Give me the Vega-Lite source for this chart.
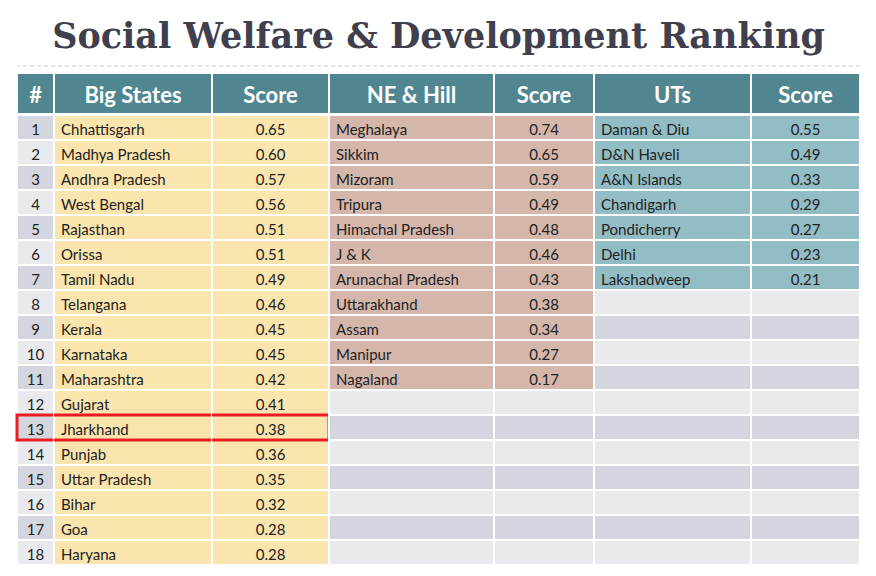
{
  "$schema": "https://vega.github.io/schema/vega-lite/v6.json",
  "padding": {"left": 15, "top": 20, "right": 18, "bottom": 8},
  "background": "white",
  "config": {"view": {"stroke": null}, "text": {"font": "Lato", "dy": 2}},
  "datasets": {
    "rows": [
      {"rank": 1, "big": "Chhattisgarh", "bigScore": 0.65, "ne": "Meghalaya", "neScore": 0.74, "ut": "Daman & Diu", "utScore": 0.55},
      {"rank": 2, "big": "Madhya Pradesh", "bigScore": 0.60, "ne": "Sikkim", "neScore": 0.65, "ut": "D&N Haveli", "utScore": 0.49},
      {"rank": 3, "big": "Andhra Pradesh", "bigScore": 0.57, "ne": "Mizoram", "neScore": 0.59, "ut": "A&N Islands", "utScore": 0.33},
      {"rank": 4, "big": "West Bengal", "bigScore": 0.56, "ne": "Tripura", "neScore": 0.49, "ut": "Chandigarh", "utScore": 0.29},
      {"rank": 5, "big": "Rajasthan", "bigScore": 0.51, "ne": "Himachal Pradesh", "neScore": 0.48, "ut": "Pondicherry", "utScore": 0.27},
      {"rank": 6, "big": "Orissa", "bigScore": 0.51, "ne": "J & K", "neScore": 0.46, "ut": "Delhi", "utScore": 0.23},
      {"rank": 7, "big": "Tamil Nadu", "bigScore": 0.49, "ne": "Arunachal Pradesh", "neScore": 0.43, "ut": "Lakshadweep", "utScore": 0.21},
      {"rank": 8, "big": "Telangana", "bigScore": 0.46, "ne": "Uttarakhand", "neScore": 0.38, "ut": null, "utScore": null},
      {"rank": 9, "big": "Kerala", "bigScore": 0.45, "ne": "Assam", "neScore": 0.34, "ut": null, "utScore": null},
      {"rank": 10, "big": "Karnataka", "bigScore": 0.45, "ne": "Manipur", "neScore": 0.27, "ut": null, "utScore": null},
      {"rank": 11, "big": "Maharashtra", "bigScore": 0.42, "ne": "Nagaland", "neScore": 0.17, "ut": null, "utScore": null},
      {"rank": 12, "big": "Gujarat", "bigScore": 0.41, "ne": null, "neScore": null, "ut": null, "utScore": null},
      {"rank": 13, "big": "Jharkhand", "bigScore": 0.38, "ne": null, "neScore": null, "ut": null, "utScore": null},
      {"rank": 14, "big": "Punjab", "bigScore": 0.36, "ne": null, "neScore": null, "ut": null, "utScore": null},
      {"rank": 15, "big": "Uttar Pradesh", "bigScore": 0.35, "ne": null, "neScore": null, "ut": null, "utScore": null},
      {"rank": 16, "big": "Bihar", "bigScore": 0.32, "ne": null, "neScore": null, "ut": null, "utScore": null},
      {"rank": 17, "big": "Goa", "bigScore": 0.28, "ne": null, "neScore": null, "ut": null, "utScore": null},
      {"rank": 18, "big": "Haryana", "bigScore": 0.28, "ne": null, "neScore": null, "ut": null, "utScore": null}
    ]
  },
  "spacing": 5,
  "vconcat": [
    {
      "width": 843, "height": 1,
      "title": {"text": "Social Welfare & Development Ranking", "anchor": "middle", "frame": "group", "font": "DejaVu Serif", "fontSize": 35, "fontWeight": "bold", "color": "#403f4d", "offset": 10},
      "data": {"values": [{"line": 0}]},
      "mark": {"type": "rule", "color": "#c9c9c9", "strokeDash": [4, 3], "strokeWidth": 1},
      "encoding": {"y": {"field": "line", "type": "quantitative", "scale": {"domain": [0, 1]}, "axis": null}}
    },
    {
      "spacing": -2,
      "vconcat": [
        {
          "spacing": 0,
          "bounds": "flush",
          "hconcat": [
            {"width": 37, "height": 41, "data": {"values": [{"label": "#"}]}, "layer": [
              {"mark": {"type": "rect", "fill": "#4f8690", "stroke": "white", "strokeWidth": 2}, "encoding": {"x": {"datum": 0, "type": "quantitative", "scale": {"domain": [0, 1]}, "axis": null}, "x2": {"datum": 1}, "y": {"datum": 0, "type": "quantitative", "scale": {"domain": [0, 1]}, "axis": null}, "y2": {"datum": 1}}},
              {"mark": {"type": "text", "color": "white", "fontSize": 22, "fontWeight": "bold"}, "encoding": {"x": {"datum": 0.5, "type": "quantitative"}, "y": {"datum": 0.5, "type": "quantitative"}, "text": {"field": "label"}}}
            ]},
            {"width": 158, "height": 41, "data": {"values": [{"label": "Big States"}]}, "layer": [
              {"mark": {"type": "rect", "fill": "#4f8690", "stroke": "white", "strokeWidth": 2}, "encoding": {"x": {"datum": 0, "type": "quantitative", "scale": {"domain": [0, 1]}, "axis": null}, "x2": {"datum": 1}, "y": {"datum": 0, "type": "quantitative", "scale": {"domain": [0, 1]}, "axis": null}, "y2": {"datum": 1}}},
              {"mark": {"type": "text", "color": "white", "fontSize": 22, "fontWeight": "bold"}, "encoding": {"x": {"datum": 0.5, "type": "quantitative"}, "y": {"datum": 0.5, "type": "quantitative"}, "text": {"field": "label"}}}
            ]},
            {"width": 117, "height": 41, "data": {"values": [{"label": "Score"}]}, "layer": [
              {"mark": {"type": "rect", "fill": "#4f8690", "stroke": "white", "strokeWidth": 2}, "encoding": {"x": {"datum": 0, "type": "quantitative", "scale": {"domain": [0, 1]}, "axis": null}, "x2": {"datum": 1}, "y": {"datum": 0, "type": "quantitative", "scale": {"domain": [0, 1]}, "axis": null}, "y2": {"datum": 1}}},
              {"mark": {"type": "text", "color": "white", "fontSize": 22, "fontWeight": "bold"}, "encoding": {"x": {"datum": 0.5, "type": "quantitative"}, "y": {"datum": 0.5, "type": "quantitative"}, "text": {"field": "label"}}}
            ]},
            {"width": 165, "height": 41, "data": {"values": [{"label": "NE & Hill"}]}, "layer": [
              {"mark": {"type": "rect", "fill": "#4f8690", "stroke": "white", "strokeWidth": 2}, "encoding": {"x": {"datum": 0, "type": "quantitative", "scale": {"domain": [0, 1]}, "axis": null}, "x2": {"datum": 1}, "y": {"datum": 0, "type": "quantitative", "scale": {"domain": [0, 1]}, "axis": null}, "y2": {"datum": 1}}},
              {"mark": {"type": "text", "color": "white", "fontSize": 22, "fontWeight": "bold"}, "encoding": {"x": {"datum": 0.5, "type": "quantitative"}, "y": {"datum": 0.5, "type": "quantitative"}, "text": {"field": "label"}}}
            ]},
            {"width": 100, "height": 41, "data": {"values": [{"label": "Score"}]}, "layer": [
              {"mark": {"type": "rect", "fill": "#4f8690", "stroke": "white", "strokeWidth": 2}, "encoding": {"x": {"datum": 0, "type": "quantitative", "scale": {"domain": [0, 1]}, "axis": null}, "x2": {"datum": 1}, "y": {"datum": 0, "type": "quantitative", "scale": {"domain": [0, 1]}, "axis": null}, "y2": {"datum": 1}}},
              {"mark": {"type": "text", "color": "white", "fontSize": 22, "fontWeight": "bold"}, "encoding": {"x": {"datum": 0.5, "type": "quantitative"}, "y": {"datum": 0.5, "type": "quantitative"}, "text": {"field": "label"}}}
            ]},
            {"width": 157, "height": 41, "data": {"values": [{"label": "UTs"}]}, "layer": [
              {"mark": {"type": "rect", "fill": "#4f8690", "stroke": "white", "strokeWidth": 2}, "encoding": {"x": {"datum": 0, "type": "quantitative", "scale": {"domain": [0, 1]}, "axis": null}, "x2": {"datum": 1}, "y": {"datum": 0, "type": "quantitative", "scale": {"domain": [0, 1]}, "axis": null}, "y2": {"datum": 1}}},
              {"mark": {"type": "text", "color": "white", "fontSize": 22, "fontWeight": "bold"}, "encoding": {"x": {"datum": 0.5, "type": "quantitative"}, "y": {"datum": 0.5, "type": "quantitative"}, "text": {"field": "label"}}}
            ]},
            {"width": 109, "height": 41, "data": {"values": [{"label": "Score"}]}, "layer": [
              {"mark": {"type": "rect", "fill": "#4f8690", "stroke": "white", "strokeWidth": 2}, "encoding": {"x": {"datum": 0, "type": "quantitative", "scale": {"domain": [0, 1]}, "axis": null}, "x2": {"datum": 1}, "y": {"datum": 0, "type": "quantitative", "scale": {"domain": [0, 1]}, "axis": null}, "y2": {"datum": 1}}},
              {"mark": {"type": "text", "color": "white", "fontSize": 22, "fontWeight": "bold"}, "encoding": {"x": {"datum": 0.5, "type": "quantitative"}, "y": {"datum": 0.5, "type": "quantitative"}, "text": {"field": "label"}}}
            ]}
          ]
        },
        {
          "spacing": 0,
          "bounds": "flush",
          "hconcat": [
            {"width": 37, "height": 450, "data": {"name": "rows"}, "layer": [
              {"mark": {"type": "rect", "stroke": "white", "strokeWidth": 2}, "encoding": {
                "y": {"field": "rank", "type": "ordinal", "axis": null, "scale": {"paddingInner": 0, "paddingOuter": 0}},
                "x": {"datum": 0, "type": "quantitative", "scale": {"domain": [0, 1]}, "axis": null}, "x2": {"datum": 1},
                "fill": {"condition": {"test": "datum.rank % 2 == 1", "value": "#d3d6de"}, "value": "#e8eaed"}}},
              {"mark": {"type": "text", "fontSize": 15, "color": "#222222"}, "encoding": {
                "y": {"field": "rank", "type": "ordinal"}, "x": {"datum": 0.5, "type": "quantitative"}, "text": {"field": "rank"}}},
              {"transform": [{"filter": "datum.rank == 13"}], "mark": {"type": "rect", "fill": null, "fillOpacity": 0, "stroke": "#ec1c24", "strokeWidth": 3, "strokeDash": [37, 25, 62]}, "encoding": {
                "y": {"field": "rank", "type": "ordinal"}, "x": {"datum": 0, "type": "quantitative"}, "x2": {"datum": 1}}}
            ]},
            {"width": 158, "height": 450, "data": {"name": "rows"}, "layer": [
              {"mark": {"type": "rect", "stroke": "white", "strokeWidth": 2, "fill": "#fbe5ae"}, "encoding": {
                "y": {"field": "rank", "type": "ordinal", "axis": null, "scale": {"paddingInner": 0, "paddingOuter": 0}},
                "x": {"datum": 0, "type": "quantitative", "scale": {"domain": [0, 1]}, "axis": null}, "x2": {"datum": 1}}},
              {"mark": {"type": "text", "fontSize": 15, "color": "#222222", "align": "left", "dx": 7}, "encoding": {
                "y": {"field": "rank", "type": "ordinal"}, "x": {"datum": 0, "type": "quantitative"}, "text": {"field": "big"}}},
              {"transform": [{"filter": "datum.rank == 13"}], "mark": {"type": "rect", "fill": null, "fillOpacity": 0, "stroke": "#ec1c24", "strokeWidth": 3, "strokeDash": [158, 25, 158, 25]}, "encoding": {
                "y": {"field": "rank", "type": "ordinal"}, "x": {"datum": 0, "type": "quantitative"}, "x2": {"datum": 1}}}
            ]},
            {"width": 117, "height": 450, "data": {"name": "rows"}, "layer": [
              {"mark": {"type": "rect", "stroke": "white", "strokeWidth": 2, "fill": "#fbe5ae"}, "encoding": {
                "y": {"field": "rank", "type": "ordinal", "axis": null, "scale": {"paddingInner": 0, "paddingOuter": 0}},
                "x": {"datum": 0, "type": "quantitative", "scale": {"domain": [0, 1]}, "axis": null}, "x2": {"datum": 1}}},
              {"mark": {"type": "text", "fontSize": 15, "color": "#222222"}, "encoding": {
                "y": {"field": "rank", "type": "ordinal"}, "x": {"datum": 0.5, "type": "quantitative"}, "text": {"field": "bigScore", "type": "quantitative", "format": ".2f"}}},
              {"transform": [{"filter": "datum.rank == 13"}], "mark": {"type": "rect", "fill": null, "fillOpacity": 0, "stroke": "#ec1c24", "strokeWidth": 3, "strokeDash": [259, 25]}, "encoding": {
                "y": {"field": "rank", "type": "ordinal"}, "x": {"datum": 0, "type": "quantitative"}, "x2": {"datum": 1}}}
            ]},
            {"width": 165, "height": 450, "data": {"name": "rows"}, "layer": [
              {"mark": {"type": "rect", "stroke": "white", "strokeWidth": 2}, "encoding": {
                "y": {"field": "rank", "type": "ordinal", "axis": null, "scale": {"paddingInner": 0, "paddingOuter": 0}},
                "x": {"datum": 0, "type": "quantitative", "scale": {"domain": [0, 1]}, "axis": null}, "x2": {"datum": 1},
                "fill": {"condition": [{"test": "isValid(datum.ne)", "value": "#d5b6aa"}, {"test": "datum.rank % 2 == 1", "value": "#d3d6de"}], "value": "#e8eaed"}}},
              {"transform": [{"filter": "isValid(datum.ne)"}], "mark": {"type": "text", "fontSize": 15, "color": "#222222", "align": "left", "dx": 7}, "encoding": {
                "y": {"field": "rank", "type": "ordinal"}, "x": {"datum": 0, "type": "quantitative"}, "text": {"field": "ne"}}}
            ]},
            {"width": 100, "height": 450, "data": {"name": "rows"}, "layer": [
              {"mark": {"type": "rect", "stroke": "white", "strokeWidth": 2}, "encoding": {
                "y": {"field": "rank", "type": "ordinal", "axis": null, "scale": {"paddingInner": 0, "paddingOuter": 0}},
                "x": {"datum": 0, "type": "quantitative", "scale": {"domain": [0, 1]}, "axis": null}, "x2": {"datum": 1},
                "fill": {"condition": [{"test": "isValid(datum.ne)", "value": "#d5b6aa"}, {"test": "datum.rank % 2 == 1", "value": "#d3d6de"}], "value": "#e8eaed"}}},
              {"transform": [{"filter": "isValid(datum.neScore)"}], "mark": {"type": "text", "fontSize": 15, "color": "#222222"}, "encoding": {
                "y": {"field": "rank", "type": "ordinal"}, "x": {"datum": 0.5, "type": "quantitative"}, "text": {"field": "neScore", "type": "quantitative", "format": ".2f"}}}
            ]},
            {"width": 157, "height": 450, "data": {"name": "rows"}, "layer": [
              {"mark": {"type": "rect", "stroke": "white", "strokeWidth": 2}, "encoding": {
                "y": {"field": "rank", "type": "ordinal", "axis": null, "scale": {"paddingInner": 0, "paddingOuter": 0}},
                "x": {"datum": 0, "type": "quantitative", "scale": {"domain": [0, 1]}, "axis": null}, "x2": {"datum": 1},
                "fill": {"condition": [{"test": "isValid(datum.ut)", "value": "#93bdc5"}, {"test": "datum.rank % 2 == 1", "value": "#d3d6de"}], "value": "#e8eaed"}}},
              {"transform": [{"filter": "isValid(datum.ut)"}], "mark": {"type": "text", "fontSize": 15, "color": "#222222", "align": "left", "dx": 7}, "encoding": {
                "y": {"field": "rank", "type": "ordinal"}, "x": {"datum": 0, "type": "quantitative"}, "text": {"field": "ut"}}}
            ]},
            {"width": 109, "height": 450, "data": {"name": "rows"}, "layer": [
              {"mark": {"type": "rect", "stroke": "white", "strokeWidth": 2}, "encoding": {
                "y": {"field": "rank", "type": "ordinal", "axis": null, "scale": {"paddingInner": 0, "paddingOuter": 0}},
                "x": {"datum": 0, "type": "quantitative", "scale": {"domain": [0, 1]}, "axis": null}, "x2": {"datum": 1},
                "fill": {"condition": [{"test": "isValid(datum.ut)", "value": "#93bdc5"}, {"test": "datum.rank % 2 == 1", "value": "#d3d6de"}], "value": "#e8eaed"}}},
              {"transform": [{"filter": "isValid(datum.utScore)"}], "mark": {"type": "text", "fontSize": 15, "color": "#222222"}, "encoding": {
                "y": {"field": "rank", "type": "ordinal"}, "x": {"datum": 0.5, "type": "quantitative"}, "text": {"field": "utScore", "type": "quantitative", "format": ".2f"}}}
            ]}
          ]
        }
      ]
    }
  ]
}
